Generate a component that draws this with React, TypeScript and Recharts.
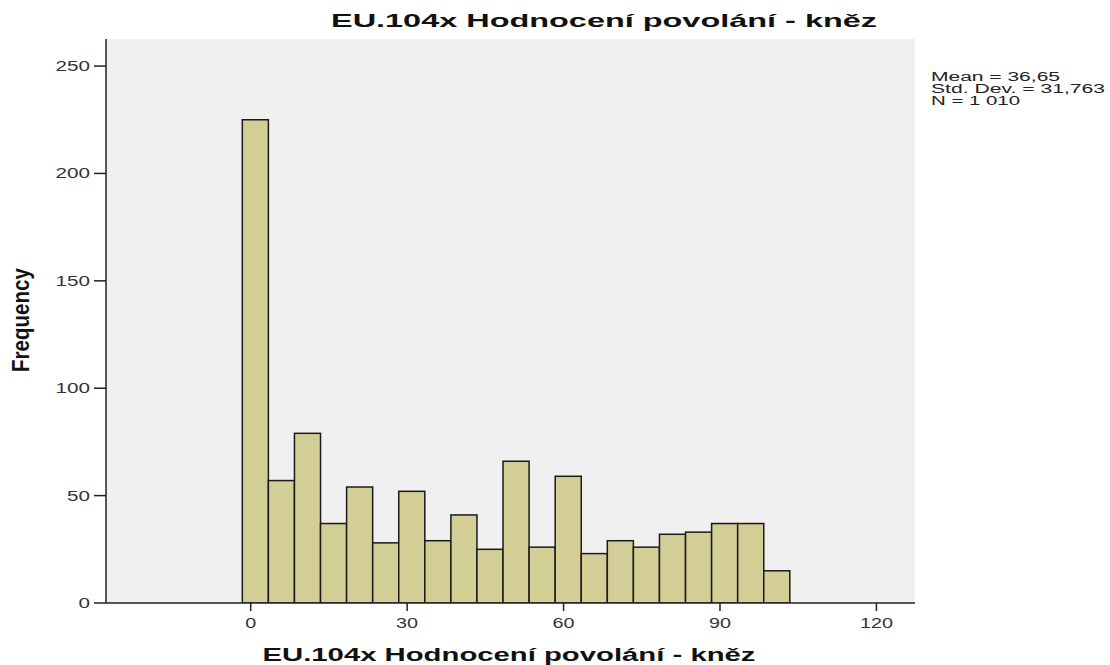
import { Bar, BarChart, CartesianGrid, XAxis, YAxis } from 'recharts';

// SPSS bins are 5 wide, starting at -1.6
const binCenters = [0.9, 5.9, 10.9, 15.9, 20.9, 25.9, 30.9, 35.9, 40.9, 45.9, 50.9, 55.9, 60.9, 65.9, 70.9, 75.9, 80.9, 85.9, 90.9, 95.9, 100.9];
const frequencies = [225, 57, 79, 37, 54, 28, 52, 29, 41, 25, 66, 26, 59, 23, 29, 26, 32, 33, 37, 37, 15];
const binWidth = 5;
const xTicks = [0, 30, 60, 90, 120];
const yTicks = [0, 50, 100, 150, 200, 250];
const statLines = ['Mean = 36,65', 'Std. Dev. = 31,763', 'N = 1 010'];

const title = 'EU.104x Hodnocení povolání - kněz';
const xTitle = 'EU.104x Hodnocení povolání - kněz';
const yTitle = 'Frequency';

const data = binCenters.map((x, i) => ({ x, count: frequencies[i] }));

const FONT = '"Liberation Sans", Arial, sans-serif';
const INK = '#222';
const X_DOMAIN: [number, number] = [-27.75, 127.4];
const Y_DOMAIN: [number, number] = [0, 262.6];
const PLOT_W = 809;
const BAR_PX = (binWidth * PLOT_W) / (X_DOMAIN[1] - X_DOMAIN[0]);

function YTick(props: any) {
  const { x, y, payload } = props;
  const s = String(payload.value);
  return (
    <text x={x} y={y} dy={5} textAnchor="end" fontSize={15} fill="#333" fontFamily={FONT}
      textLength={s.length * 11.5} lengthAdjust="spacingAndGlyphs">
      {s}
    </text>
  );
}

function XTick(props: any) {
  const { x, y, payload } = props;
  const s = String(payload.value);
  return (
    <text x={x} y={y} dy={15} textAnchor="middle" fontSize={15} fill="#333" fontFamily={FONT}
      textLength={s.length * 11} lengthAdjust="spacingAndGlyphs">
      {s}
    </text>
  );
}

function HistBar(props: any) {
  const { x, y, width, height } = props;
  const cx = x + width / 2;
  return (
    <rect x={cx - BAR_PX / 2} y={y} width={BAR_PX} height={height}
      fill="#d3ce96" stroke="#1a1a1a" strokeWidth={1.5} />
  );
}

export default function App() {
  return (
    <div style={{ position: 'absolute', left: 0, top: 0, width: 1110, height: 665, background: '#fff' }}>
      <BarChart width={1110} height={665} data={data} margin={{ top: 39, right: 195, bottom: 0, left: 0 }}
        barCategoryGap={0} barGap={0}>
        <CartesianGrid horizontal={false} vertical={false} fill="#f0f0f0" />
        <XAxis type="number" dataKey="x" domain={X_DOMAIN} ticks={xTicks} allowDataOverflow
          height={62} tickSize={8} tickMargin={2} stroke={INK} strokeWidth={1.5} tick={<XTick />} />
        <XAxis xAxisId="top" orientation="top" type="number" domain={X_DOMAIN} height={0}
          tick={false} tickLine={false} stroke="#333" strokeWidth={1.5} />
        <YAxis type="number" domain={Y_DOMAIN} ticks={yTicks} allowDataOverflow width={106}
          tickSize={12} tickMargin={4} stroke={INK} strokeWidth={1.5} tick={<YTick />} />
        <YAxis yAxisId="right" orientation="right" type="number" domain={Y_DOMAIN} width={0}
          tick={false} tickLine={false} stroke="#333" strokeWidth={1.5} />
        <Bar dataKey="count" barSize={20} shape={<HistBar />} isAnimationActive={false} />
      </BarChart>
      <svg width={1110} height={665} style={{ position: 'absolute', left: 0, top: 0, pointerEvents: 'none' }}>
        <text x={604} y={27} textAnchor="middle" fontSize={19} fontWeight="bold" fill="#111" fontFamily={FONT}
          textLength={546} lengthAdjust="spacingAndGlyphs">
          {title}
        </text>
        <text x={509} y={661} textAnchor="middle" fontSize={18} fontWeight="bold" fill="#111" fontFamily={FONT}
          textLength={493} lengthAdjust="spacingAndGlyphs">
          {xTitle}
        </text>
        <text transform="translate(29,320) rotate(-90)" textAnchor="middle" fontSize={23} fontWeight="bold"
          fill="#111" fontFamily={FONT} textLength={104} lengthAdjust="spacingAndGlyphs">
          {yTitle}
        </text>
        {statLines.map((s, i) => (
          <text key={s} x={931} y={80.5 + i * 12} fontSize={12} fill="#222" fontFamily={FONT}
            textLength={[129, 174, 89][i]} lengthAdjust="spacingAndGlyphs">
            {s}
          </text>
        ))}
      </svg>
    </div>
  );
}
